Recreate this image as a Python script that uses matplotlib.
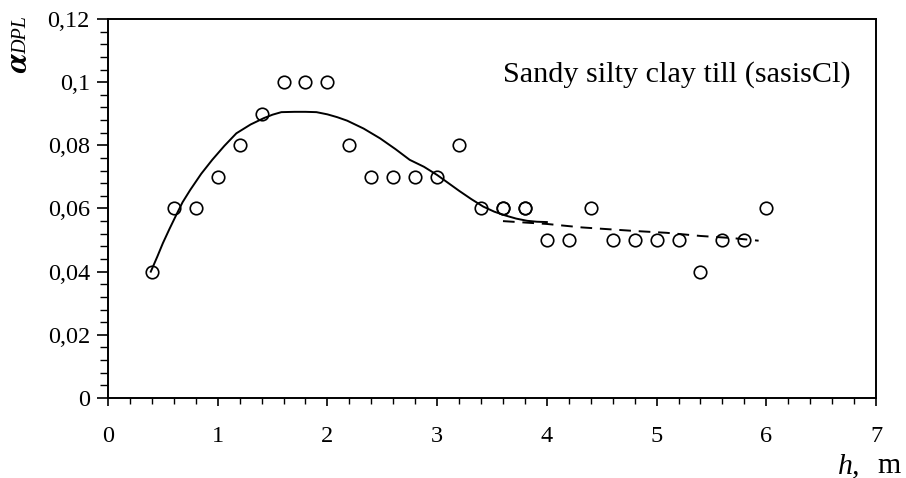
import matplotlib
matplotlib.use("Agg")
import matplotlib.pyplot as plt
from matplotlib.ticker import MultipleLocator, FuncFormatter

plt.rcParams['font.family'] = ['Liberation Serif', 'DejaVu Serif']
plt.rcParams['mathtext.fontset'] = 'stix'

# Measured points (depth h, m; coefficient alpha_DPL)
h_obs = [0.4, 0.6, 0.8, 1.0, 1.2, 1.4, 1.6, 1.8, 2.0, 2.2, 2.4, 2.6, 2.8, 3.0,
         3.2, 3.4, 3.6, 3.6, 3.8, 3.8, 4.0, 4.2, 4.4, 4.6, 4.8, 5.0, 5.2, 5.4,
         5.6, 5.8, 6.0]
a_obs = [0.04, 0.06, 0.06, 0.07, 0.08, 0.09, 0.10, 0.10, 0.10, 0.08, 0.07, 0.07,
         0.07, 0.07, 0.08, 0.06, 0.06, 0.06, 0.06, 0.06, 0.05, 0.05, 0.06, 0.05,
         0.05, 0.05, 0.05, 0.04, 0.05, 0.05, 0.06]

# Fitted trend, upper part (solid)
h_fit = [0.39, 0.45, 0.50, 0.56, 0.62, 0.68, 0.75, 0.85, 0.95, 1.06, 1.17,
         1.30, 1.42, 1.50, 1.58, 1.70, 1.80, 1.90, 2.00, 2.09, 2.18, 2.33,
         2.48, 2.62, 2.75, 2.88, 3.00, 3.10, 3.20, 3.31, 3.42, 3.52, 3.62,
         3.72, 3.82, 3.91, 4.00]
a_fit = [0.0400, 0.0448, 0.0490, 0.0535, 0.0578, 0.0620, 0.0659, 0.0710,
         0.0754, 0.0798, 0.0838, 0.0866, 0.0886, 0.0897, 0.0905, 0.0906,
         0.0906, 0.0905, 0.0898, 0.0889, 0.0878, 0.0853, 0.0822, 0.0788,
         0.0754, 0.0732, 0.0706, 0.0681, 0.0656, 0.0630, 0.0606, 0.0590,
         0.0578, 0.0568, 0.0561, 0.0558, 0.0557]

# Fitted trend, lower part (dashed)
h_low = [3.60, 4.00, 4.32, 4.79, 5.09, 5.40, 5.70, 5.93]
a_low = [0.0560, 0.0551, 0.0540, 0.0529, 0.0523, 0.0513, 0.0506, 0.0498]

fig = plt.figure(figsize=(9.06, 4.78), dpi=100)
ax = fig.add_axes([0.1192, 0.1674, 0.8477, 0.7929])

ax.plot(h_fit, a_fit, color='black', lw=1.4)
ax.plot(h_low, a_low, color='black', lw=1.4, dashes=(6, 4))
ax.plot(h_obs, a_obs, linestyle='none', marker='o', markersize=9,
        markerfacecolor='none', markeredgecolor='black', markeredgewidth=1.2)

ax.set_xlim(0, 7)
ax.set_ylim(0, 0.12)
ax.xaxis.set_major_locator(MultipleLocator(1))
ax.xaxis.set_minor_locator(MultipleLocator(0.2))
ax.yaxis.set_major_locator(MultipleLocator(0.02))
ax.yaxis.set_minor_locator(MultipleLocator(0.004))


def comma_fmt(v, pos):
    s = f"{v:.2f}".rstrip('0').rstrip('.')
    return s.replace('.', ',')


ax.yaxis.set_major_formatter(FuncFormatter(comma_fmt))
ax.tick_params(axis='both', which='major', direction='out', labelsize=17.5,
               width=1.2, color='black')
ax.tick_params(axis='y', which='major', length=8, pad=5)
ax.tick_params(axis='y', which='minor', length=6, width=1.0)
ax.tick_params(axis='x', which='major', length=6, pad=14)
ax.tick_params(axis='x', which='minor', length=4, width=1.0)
for sp in ax.spines.values():
    sp.set_linewidth(1.4)

ax.text(3.6, 0.1025, 'Sandy silty clay till (sasisCl)', fontsize=21.7,
        va='center', ha='left')

# Rotated axis symbol: large italic alpha followed by smaller italic "DPL"
fig.text(27 / 906, 1 - 73 / 478, r'$\boldsymbol{\alpha}$', rotation=90,
         fontsize=24, rotation_mode='anchor', ha='left', va='baseline')
fig.text(26 / 906, 1 - 54 / 478, 'DPL', rotation=90, fontsize=14.5,
         fontstyle='italic', rotation_mode='anchor', ha='left', va='baseline')

fig.text(838 / 906, 1 - 473 / 478, 'h,', fontsize=21.5, fontstyle='italic',
         ha='left', va='baseline')
fig.text(877 / 906, 1 - 473 / 478, 'm', fontsize=21.5, ha='left',
         va='baseline')

fig.savefig('out.png', dpi=100)
